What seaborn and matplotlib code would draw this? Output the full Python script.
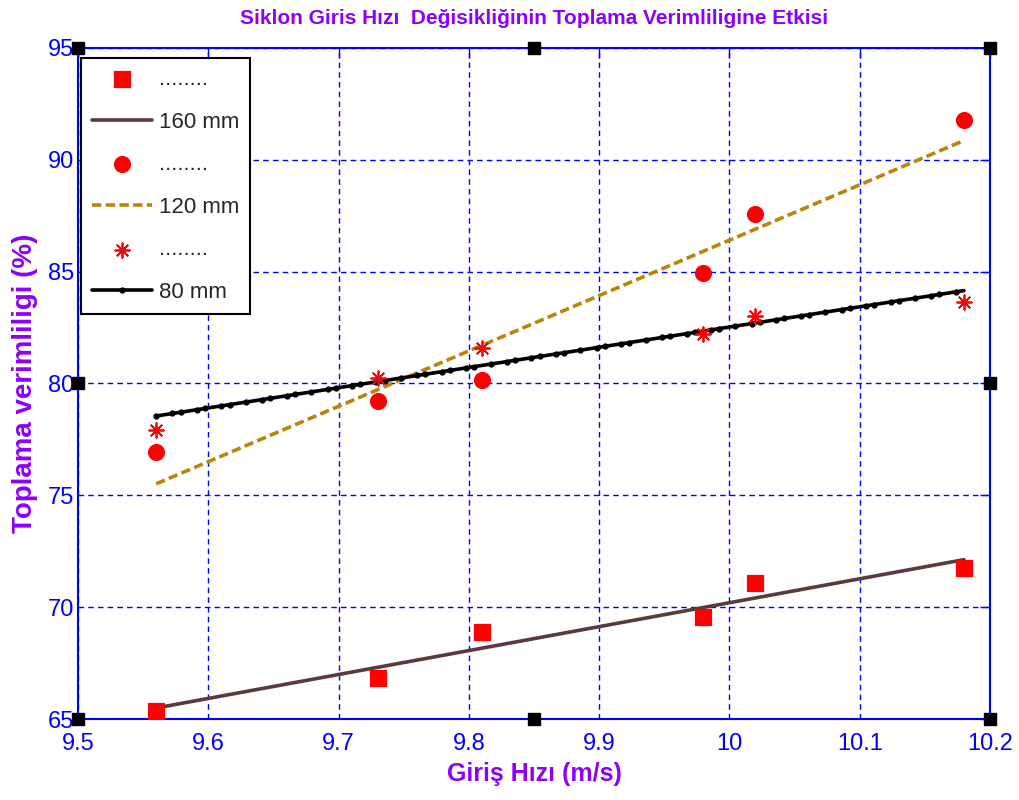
import matplotlib
matplotlib.use("Agg")
import matplotlib.pyplot as plt
import seaborn as sns
import numpy as np
import pandas as pd

# ---- data ----
giris_hizi = [9.56, 9.73, 9.81, 9.98, 10.02, 10.18]
verim_160 = [65.36, 66.84, 68.90, 69.56, 71.08, 71.75]
verim_120 = [76.94, 79.22, 80.16, 84.94, 87.58, 91.78]
verim_80 = [77.92, 80.25, 81.59, 82.21, 83.02, 83.65]
series_labels = ["160 mm", "120 mm", "80 mm"]
dot_label = "........"

x_ticks = [9.5, 9.6, 9.7, 9.8, 9.9, 10.0, 10.1, 10.2]
x_tick_labels = ["9.5", "9.6", "9.7", "9.8", "9.9", "10", "10.1", "10.2"]
y_ticks = [65, 70, 75, 80, 85, 90, 95]
y_tick_labels = ["65", "70", "75", "80", "85", "90", "95"]
corner_x = [9.5, 9.85, 10.2, 9.5, 10.2, 9.5, 9.85, 10.2]
corner_y = [95, 95, 95, 80, 80, 65, 65, 65]

title = "Siklon Giris Hızı  Değisikliğinin Toplama Verimliligine Etkisi"
x_label = "Giriş Hızı (m/s)"
y_label = "Toplama verimliligi (%)"

# ---- style ----
sns.set_style("white")
plain = ["Liberation Sans", "DejaVu Sans"]
plt.rcParams["font.family"] = plain

purple = "#8B00FF"
blue = "#0000FF"

fig = plt.figure(figsize=(10.2, 8), dpi=100)
ax = fig.add_axes([78 / 1020, 1 - 719 / 800, 912 / 1020, 671 / 800])

df = pd.DataFrame({"x": giris_hizi, "v160": verim_160,
                   "v120": verim_120, "v80": verim_80})

handles = []

# 160 mm
sns.scatterplot(data=df, x="x", y="v160", marker="s", color="red",
                edgecolor="red", s=120, ax=ax, zorder=4, legend=False)
handles.append(ax.collections[-1])
sns.regplot(data=df, x="x", y="v160", scatter=False, ci=None, truncate=True,
            ax=ax, line_kws=dict(color="#5A3A3A", lw=2.6, zorder=3))
handles.append(ax.lines[-1])
# 120 mm
sns.scatterplot(data=df, x="x", y="v120", marker="o", color="red",
                edgecolor="red", s=130, ax=ax, zorder=4, legend=False)
handles.append(ax.collections[-1])
sns.regplot(data=df, x="x", y="v120", scatter=False, ci=None, truncate=True,
            ax=ax, line_kws=dict(color="#B8860B", lw=2.6, ls=(0, (2.6, 1.2)),
                                 zorder=3))
handles.append(ax.lines[-1])
# 80 mm
sns.scatterplot(data=df, x="x", y="v80", marker=(8, 2, 0), color="red",
                linewidth=1.3, s=110, ax=ax, zorder=4, legend=False)
handles.append(ax.collections[-1])
sns.regplot(data=df, x="x", y="v80", scatter=False, ci=None, truncate=True,
            ax=ax, line_kws=dict(color="black", lw=2.6, marker=".", ms=7,
                                 markevery=0.0115, zorder=3))
handles.append(ax.lines[-1])

labels = [dot_label, series_labels[0], dot_label, series_labels[1],
          dot_label, series_labels[2]]

# decorative black squares on the frame
ax.plot(corner_x, corner_y, ls="none", marker="s", ms=9, mfc="black",
        mec="black", clip_on=False, zorder=6)

ax.set_xlim(9.5, 10.2)
ax.set_ylim(65, 95)
ax.set_xticks(x_ticks)
ax.set_xticklabels(x_tick_labels, fontsize=17)
ax.set_yticks(y_ticks)
ax.set_yticklabels(y_tick_labels, fontsize=17)
ax.tick_params(axis="both", direction="in", length=7, width=1, color=blue,
               labelcolor=blue, top=True, right=True)
ax.tick_params(axis="x", pad=10)
ax.tick_params(axis="y", pad=3)

ax.grid(True, color=blue, ls=(0, (4, 3)), lw=1)
ax.set_axisbelow(True)
for sp in ax.spines.values():
    sp.set_color(blue)
    sp.set_linewidth(1.5)
    sp.set_visible(True)

ax.set_title(title, color=purple, fontweight="bold", fontsize=15, pad=17)
ax.set_xlabel(x_label, color=purple, fontweight="bold", fontsize=18,
              labelpad=5)
ax.set_ylabel(y_label, color=purple, fontweight="bold", fontsize=20,
              labelpad=7)

leg = ax.legend(handles, labels,
                loc="upper left", bbox_to_anchor=(0.003, 0.985),
                borderaxespad=0, frameon=True, fancybox=False,
                edgecolor="black", framealpha=1,
                prop=dict(size=16),
                handlelength=2.7, handletextpad=0.3, labelspacing=0.97,
                borderpad=0.5)
leg.get_frame().set_linewidth(1.5)

fig.savefig("out.png", dpi=100)
